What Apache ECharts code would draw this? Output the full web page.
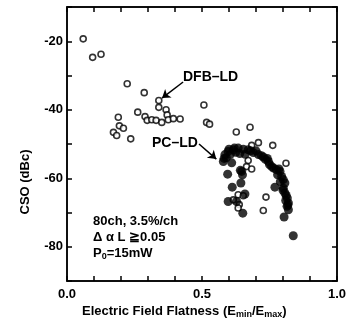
<!DOCTYPE html>
<html><head><meta charset="utf-8">
<script src="https://cdn.jsdelivr.net/npm/echarts@6/dist/echarts.min.js"></script>
<style>html,body{margin:0;padding:0;background:#fff}#c{width:350px;height:323px}</style>
</head><body><div id="c"></div>
<script>
// DFB-LD (open circles)
const dfbX = [0.06,0.095,0.126,0.223,0.286,0.34,0.34,0.262,0.289,0.297,0.19,0.194,0.209,0.172,0.184,0.236,0.314,0.33,0.351,0.367,0.371,0.375,0.394,0.419,0.507,0.517,0.528,0.627,0.678,0.709,0.684,0.762,0.811,0.671,0.665,0.684,0.737,0.727,0.634,0.616,0.638,0.634,0.653];
const dfbY = [-19.3,-24.7,-23.8,-32.4,-35,-37.3,-39.3,-40.7,-42,-43.1,-42.2,-44.7,-45.4,-46.6,-47.5,-48.5,-42.9,-43.1,-43.7,-40,-41.5,-42.9,-42.6,-42.7,-38.6,-43.7,-44.2,-46.5,-45.1,-49.6,-50.4,-50.4,-55.6,-54.8,-56.6,-57.3,-65.5,-69.4,-64.8,-66.3,-67.7,-68.7,-65.1];
// PC-LD (filled circles)
const pcX = [0.579,0.585,0.597,0.616,0.634,0.653,0.671,0.69,0.709,0.727,0.746,0.758,0.789,0.795,0.801,0.807,0.801,0.807,0.816,0.82,0.82,0.804,0.838,0.595,0.647,0.644,0.612,0.597,0.651,0.77,0.659,0.628,0.59,0.605,0.625,0.64,0.66,0.70,0.735,0.75,0.765,0.785,0.79,0.80,0.81,0.815,0.65,0.642,0.61,0.582,0.60,0.62,0.68,0.72,0.742,0.775,0.78,0.812,0.818];
const pcY = [-55.1,-53.1,-52.2,-51.7,-51.2,-51.5,-51.7,-52.5,-53.1,-53.8,-55.1,-56.6,-58,-59.5,-60.4,-61.4,-62.9,-64.3,-65.8,-67.2,-69.2,-71.3,-76.8,-58.8,-58,-61.4,-62.6,-66.8,-70.2,-62.6,-64.6,-66.8,-54,-53,-52.4,-52.8,-53,-52,-54.5,-56,-57,-57.3,-61,-63.5,-66.5,-68.2,-59,-57.7,-55.5,-54.2,-51.5,-51.2,-52,-53.4,-54.2,-57.5,-59,-65,-67.8];
const xTickLabels = ['0.0','0.5','1.0'];
const yTickLabels = ['-20','-40','-60','-80'];

const F = '"Liberation Sans", Arial, sans-serif';
const chart = echarts.init(document.getElementById('c'));
const axisCommon = {
  axisLine:{show:true,onZero:false,lineStyle:{color:'#000',width:1.5}},
  axisTick:{show:true,inside:true,length:5,lineStyle:{color:'#000',width:1.5}},
  splitLine:{show:false}
};
chart.setOption({
  animation:false,
  grid:{left:67,right:13,top:7,bottom:42,show:true,borderColor:'#000',borderWidth:1.5,backgroundColor:'transparent'},
  xAxis:[
    Object.assign({type:'value',min:0,max:1,interval:0.1,position:'bottom',
      axisLabel:{margin:7,color:'#000',fontFamily:F,fontWeight:'bold',fontSize:13,
        formatter:v=>{const r=Math.round(v*10);return r%5===0?xTickLabels[r/5]:'';}}},axisCommon),
    Object.assign({type:'value',min:0,max:1,interval:0.1,position:'top',show:true,axisLabel:{show:false}},axisCommon)
  ],
  yAxis:[
    Object.assign({type:'value',min:-90,max:-10,interval:10,position:'left',
      axisLabel:{margin:4,color:'#000',fontFamily:F,fontWeight:'bold',fontSize:13,
        formatter:v=>{const i=yTickLabels.indexOf(String(v));return i>=0?yTickLabels[i]:'';}}},axisCommon),
    Object.assign({type:'value',min:-90,max:-10,interval:10,position:'right',show:true,axisLabel:{show:false}},axisCommon)
  ],
  series:[
    {type:'scatter',name:'DFB-LD',symbol:'circle',symbolSize:6,
      itemStyle:{color:'#fff',borderColor:'#000',borderWidth:1.6},
      data:dfbX.map((x,i)=>[x,dfbY[i]]),
      markLine:{silent:true,symbol:['none','arrow'],symbolSize:8,
        lineStyle:{color:'#000',width:1.5,type:'solid'},label:{show:false},
        data:[
          [{coord:[0.43,-31.9]},{coord:[0.352,-36.6]}],
          [{coord:[0.489,-50.0],lineStyle:{curveness:-0.3}},{coord:[0.553,-54.4]}]
        ]}
    },
    {type:'scatter',name:'PC-LD',symbol:'circle',symbolSize:9,
      itemStyle:{color:'#000'},
      data:pcX.map((x,i)=>[x,pcY[i]])}
  ],
  graphic:[
    {type:'text',left:183,top:70,style:{text:'DFB–LD',font:'bold 14px '+F,fill:'#000'}},
    {type:'text',left:152,top:136,style:{text:'PC–LD',font:'bold 14px '+F,fill:'#000'}},
    {type:'text',left:93,top:215,style:{text:'80ch, 3.5%/ch',font:'bold 13px '+F,fill:'#000'}},
    {type:'text',left:93,top:231,style:{text:'Δ α L ≧0.05',font:'bold 13px '+F,fill:'#000'}},
    {type:'text',left:93,top:247,style:{rich:{a:{font:'bold 13px '+F,fill:'#000'},s:{font:'bold 9px '+F,fill:'#000',padding:[6,0,0,0]}},text:'{a|P}{s|0}{a|=15mW}'}},
    {type:'text',x:25,y:182,rotation:Math.PI/2,style:{text:'CSO (dBc)',font:'bold 13px '+F,fill:'#000',align:'center',verticalAlign:'middle'}},
    {type:'text',left:82,top:305,style:{rich:{a:{font:'bold 13px '+F,fill:'#000'},s:{font:'bold 9px '+F,fill:'#000',padding:[6,0,0,0]}},text:'{a|Electric Field Flatness (E}{s|min}{a|/E}{s|max}{a|)}'}}
  ]
});
</script></body></html>
